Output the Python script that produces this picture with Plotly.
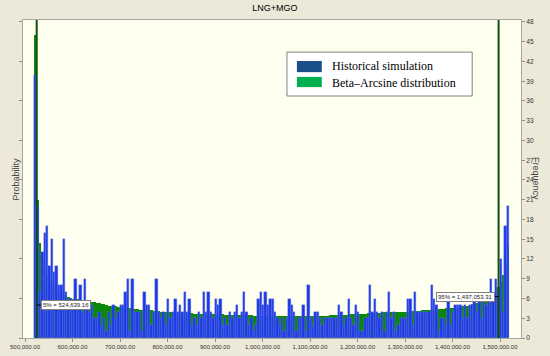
import plotly.graph_objects as go

# histogram bins: 200 bins of 5,000 starting at 519,000
bin_start = 519000
bin_width = 5000

hist_counts = [
    40, 20, 7, 13, 16, 17, 11, 15, 10, 11,
    8, 8, 15, 7, 6, 6, 5, 9, 5, 8,
    4, 9, 5, 4, 5, 3, 3, 4, 2, 3,
    1, 4, 2, 5, 3, 4, 5, 5, 7, 9,
    1, 9, 4, 4, 4, 1, 7, 5, 5, 2,
    4, 9, 4, 3, 4, 2, 6, 3, 4, 6,
    4, 5, 4, 7, 4, 6, 2, 3, 2, 4,
    3, 7, 4, 7, 4, 3, 6, 5, 6, 2,
    3, 2, 4, 3, 4, 5, 3, 4, 7, 4,
    2, 3, 1, 2, 6, 7, 5, 7, 5, 6,
    6, 4, 3, 2, 3, 1, 3, 6, 5, 4,
    1, 3, 3, 5, 1, 8, 3, 2, 4, 4,
    3, 2, 3, 3, 3, 3, 3, 3, 5, 4,
    2, 3, 6, 3, 2, 5, 4, 1, 1, 3,
    3, 8, 4, 6, 4, 3, 4, 1, 4, 7,
    3, 4, 1, 2, 3, 3, 3, 6, 6, 2,
    7, 4, 4, 4, 4, 4, 4, 8, 6, 5,
    1, 3, 3, 2, 6, 2, 4, 5, 5, 5,
    3, 5, 3, 5, 5, 6, 4, 6, 3, 6,
    5, 6, 9, 6, 9, 7, 12, 4, 17, 20,
]

beta_arcsine = [
    46, 21, 14.5, 12, 10.6, 9.6, 8.9, 8.3, 7.8, 7.4,
    7.1, 6.8, 6.6, 6.4, 6.2, 6.1, 6.0, 5.9, 5.9, 5.8,
    5.8, 5.7, 5.6, 5.5, 5.5, 5.4, 5.3, 5.3, 5.2, 5.1,
    5.0, 4.9, 4.9, 4.8, 4.8, 4.7, 4.7, 4.6, 4.6, 4.5,
    4.5, 4.4, 4.4, 4.4, 4.3, 4.3, 4.3, 4.2, 4.2, 4.2,
    4.1, 4.1, 4.1, 4.0, 4.0, 4.0, 4.0, 3.9, 3.9, 3.9,
    3.9, 3.9, 3.8, 3.8, 3.8, 3.8, 3.8, 3.7, 3.7, 3.7,
    3.7, 3.7, 3.7, 3.6, 3.6, 3.6, 3.6, 3.6, 3.6, 3.6,
    3.5, 3.5, 3.5, 3.5, 3.5, 3.5, 3.5, 3.5, 3.5, 3.5,
    3.5, 3.5, 3.4, 3.4, 3.4, 3.4, 3.4, 3.4, 3.4, 3.4,
    3.4, 3.4, 3.4, 3.4, 3.4, 3.4, 3.4, 3.4, 3.4, 3.4,
    3.4, 3.4, 3.4, 3.4, 3.4, 3.4, 3.4, 3.4, 3.4, 3.4,
    3.4, 3.4, 3.4, 3.4, 3.5, 3.5, 3.5, 3.5, 3.5, 3.5,
    3.5, 3.5, 3.6, 3.6, 3.6, 3.6, 3.7, 3.7, 3.7, 3.7,
    3.8, 3.8, 3.8, 3.8, 3.8, 3.8, 3.9, 3.9, 3.9, 3.9,
    3.9, 3.9, 3.9, 4.0, 4.0, 4.0, 4.0, 4.0, 4.1, 4.1,
    4.1, 4.1, 4.1, 4.2, 4.2, 4.2, 4.2, 4.3, 4.3, 4.3,
    4.4, 4.4, 4.4, 4.5, 4.5, 4.5, 4.6, 4.6, 4.7, 4.7,
    4.8, 4.9, 4.9, 5.0, 5.1, 5.2, 5.3, 5.4, 5.6, 5.8,
    6.0, 6.3, 6.6, 7.0, 7.4, 7.8, 8.5, 9.5, 11, 14,
]

bin_centers = [bin_start + bin_width * (i + 0.5) for i in range(len(hist_counts))]

x_ticks = [500000 + 100000 * k for k in range(11)]
p5 = 524639.16
p95 = 1497053.31

fig = go.Figure()

fig.add_trace(go.Bar(
    x=bin_centers, y=beta_arcsine, width=bin_width,
    marker=dict(color="#0b870b", line=dict(width=0)),
    name="Beta–Arcsine distribution", showlegend=False,
))
fig.add_trace(go.Bar(
    x=bin_centers, y=hist_counts, width=bin_width,
    marker=dict(color="#1c38e8", line=dict(color="#6f80e0", width=0.4)),
    name="Historical simulation", showlegend=False, yaxis="y2",
))

# percentile markers
for v in (p5, p95):
    fig.add_shape(type="line", xref="x", yref="paper", x0=v, x1=v, y0=0, y1=1,
                  line=dict(color="#0f4f0f", width=2))

fig.add_shape(type="line", xref="x", yref="y", xsizemode="pixel", xanchor=p5,
              x0=0, x1=4, y0=5, y1=5, line=dict(color="black", width=1))
fig.add_shape(type="line", xref="x", yref="y", xsizemode="pixel", xanchor=p95,
              x0=-4, x1=0, y0=6.3, y1=6.3, line=dict(color="black", width=1))

lab_font = dict(family="Liberation Sans", size=6, color="#222222")
fig.add_annotation(x=p5, y=5, xref="x", yref="y", text="5% = 524,639.16",
                   showarrow=False, xanchor="left", xshift=4, font=lab_font,
                   bgcolor="white", bordercolor="#808080", borderwidth=1, borderpad=1)
fig.add_annotation(x=p95, y=6.3, xref="x", yref="y", text="95% = 1,497,053.31",
                   showarrow=False, xanchor="right", xshift=-4, font=lab_font,
                   bgcolor="white", bordercolor="#808080", borderwidth=1, borderpad=1)

# legend box drawn by hand
fig.add_shape(type="rect", xref="paper", yref="paper", x0=0.530, x1=0.902, y0=0.761, y1=0.899,
              fillcolor="white", line=dict(color="#808080", width=1))
fig.add_shape(type="rect", xref="paper", yref="paper", x0=0.550, x1=0.600, y0=0.836, y1=0.871,
              fillcolor="#1a4f8a", line=dict(color="#1a4f8a", width=0))
fig.add_shape(type="rect", xref="paper", yref="paper", x0=0.550, x1=0.600, y0=0.789, y1=0.821,
              fillcolor="#00b050", line=dict(color="#00b050", width=0))
leg_font = dict(family="Liberation Serif", size=12, color="black")
fig.add_annotation(x=0.616, y=0.854, xref="paper", yref="paper", text="Historical simulation",
                   showarrow=False, xanchor="left", yanchor="middle", font=leg_font)
fig.add_annotation(x=0.616, y=0.802, xref="paper", yref="paper", text="Beta–Arcsine distribution",
                   showarrow=False, xanchor="left", yanchor="middle", font=leg_font)

# axis titles
ax_font = dict(family="Liberation Sans", size=9, color="#444444")
fig.add_annotation(x=-0.029, y=0.5, xref="paper", yref="paper", text="Probability",
                   showarrow=False, textangle=-90, font=ax_font)
fig.add_annotation(x=1.044, y=0.5, xref="paper", yref="paper", text="Frequency",
                   showarrow=False, textangle=90, font=ax_font)

fig.update_layout(
    width=550, height=356,
    margin=dict(l=23, r=29, t=20, b=18, autoexpand=False),
    paper_bgcolor="#ECE9D8", plot_bgcolor="#FFFFF0",
    barmode="overlay", bargap=0,
    title=dict(text="LNG+MGO", x=0.5, y=0.977, xanchor="center", yanchor="middle",
               font=dict(family="Liberation Sans", size=9, color="black")),
    xaxis=dict(range=[495800, 1544200], tickvals=x_ticks, tickformat=",.2f",
               ticks="outside", ticklen=3, tickcolor="#909090", automargin=False,
               tickfont=dict(family="Liberation Sans", size=6, color="#333333"),
               showgrid=False, zeroline=False, showline=True, linecolor="#a8a8a8", mirror=True),
    yaxis=dict(range=[0, 48.3], dtick=6, showticklabels=False, ticks="outside", ticklen=3,
               tickcolor="#909090", showgrid=False, zeroline=False, automargin=False,
               showline=True, linecolor="#a8a8a8"),
    yaxis2=dict(range=[0, 48.3], dtick=3, overlaying="y", side="right", ticks="outside",
                ticklen=3, tickcolor="#909090", automargin=False,
                tickfont=dict(family="Liberation Sans", size=6.5, color="#333333"),
                showgrid=False, zeroline=False, showline=True, linecolor="#a8a8a8"),
    showlegend=False,
)

# the page body has a default 8px margin; drop it so the figure sits at the corner
fig.write_html("out.html", config={"displayModeBar": False},
               post_script="document.body.style.margin='0px';")
